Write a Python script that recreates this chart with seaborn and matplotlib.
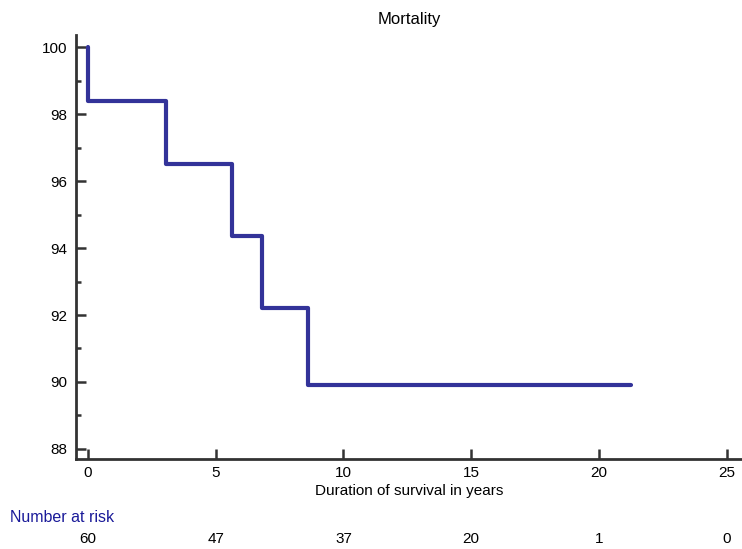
import matplotlib
matplotlib.use("Agg")
import matplotlib.pyplot as plt
import seaborn as sns
import pandas as pd
from matplotlib.ticker import MultipleLocator

sns.set_style("white")
plt.rcParams['font.family'] = ['Liberation Sans', 'DejaVu Sans']

times = [0, 0, 3.05, 5.63, 6.81, 8.61, 21.24]
survival = [100, 98.4, 96.5, 94.35, 92.2, 89.9, 89.9]
risk_times = [0, 5, 10, 15, 20, 25]
at_risk = [60, 47, 37, 20, 1, 0]

df = pd.DataFrame({"t": times, "s": survival})

fig = plt.figure(figsize=(7.42, 5.49), dpi=100)
ax = fig.add_axes([0.1024, 0.164, 0.8976, 0.772])
sns.lineplot(data=df, x="t", y="s", ax=ax, drawstyle="steps-post",
             color="#333399", linewidth=3.0, estimator=None, sort=False)

ax.set_xlim(-0.47, 25.6)
ax.set_ylim(87.7, 100.36)
ax.xaxis.set_major_locator(MultipleLocator(5))
ax.yaxis.set_major_locator(MultipleLocator(2))
ax.yaxis.set_minor_locator(MultipleLocator(1))

for s in ["top", "right"]:
    ax.spines[s].set_visible(False)
for s in ["left", "bottom"]:
    ax.spines[s].set_color("#333333")
    ax.spines[s].set_linewidth(2.0)

ax.tick_params(axis="both", which="major", direction="in", length=7,
               width=1.8, color="#333333", labelsize=11, labelcolor="black",
               left=True, bottom=True)
ax.tick_params(axis="y", which="minor", direction="in", length=3.5,
               width=1.8, color="#333333", left=True)
ax.tick_params(axis="x", which="major", pad=5)
ax.tick_params(axis="y", which="major", pad=6)

ax.set_xlabel("Duration of survival in years", fontsize=11, labelpad=3,
              color="black")
ax.set_ylabel("")
ax.set_title("Mortality", fontsize=12, pad=8, color="black")

fig.text(10 / 742, 1 - 518 / 549, "Number at risk", color="#1a1a99",
         fontsize=11.5, ha="left", va="center")
for t, n in zip(risk_times, at_risk):
    xf = ax.transData.transform((t, 0))[0]
    xfig = fig.transFigure.inverted().transform((xf, 0))[0]
    fig.text(xfig, 1 - 539 / 549, str(n), fontsize=11, ha="center",
             va="center", color="black")

fig.savefig("out.png", dpi=100)
